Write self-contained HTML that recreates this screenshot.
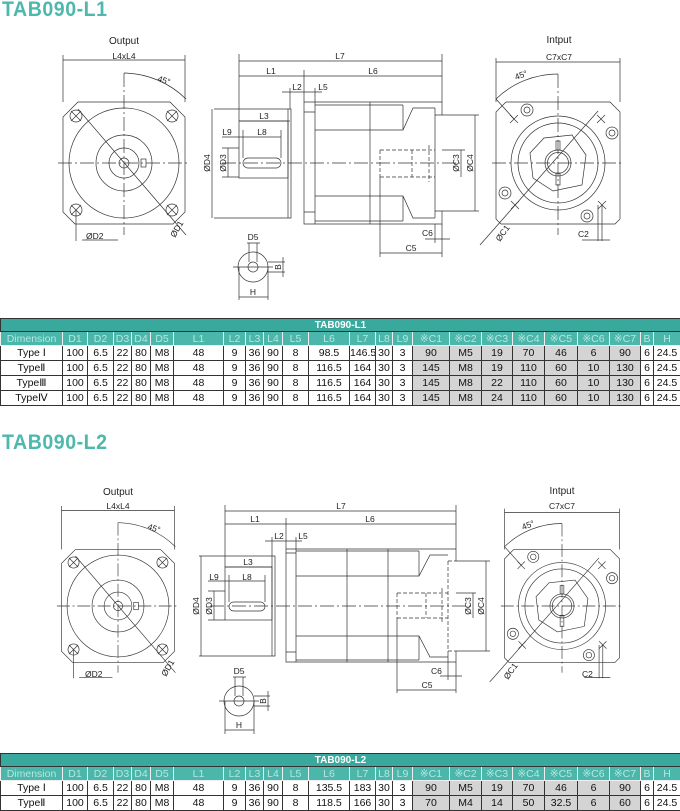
<!DOCTYPE html>
<html><head><meta charset="utf-8">
<style>
body{margin:0;width:680px;height:810px;background:#fff;position:relative;overflow:hidden;font-family:"Liberation Sans",sans-serif}
.ttl{position:absolute;left:2px;font:bold 21px "Liberation Sans",sans-serif;color:#4db8ad;letter-spacing:0.6px;transform:scaleX(0.93);transform-origin:left}
svg{position:absolute;left:0;top:0}
table{position:absolute;left:0;width:680px;border-collapse:collapse;table-layout:fixed;font-size:10.5px;color:#111}
td{border:1px solid #333;text-align:center;padding:0;white-space:nowrap;overflow:hidden}
tr.t td{background:#3aa99d;color:#fff;font-weight:bold;height:12px;font-size:10px}
tr.h td{background:#4bb7ab;color:#b7e6e0;height:13px;border-color:#eee}
tr.d td{height:14px}
td.g{background:#d4d4d4}
</style></head><body>
<div class="ttl" style="top:-2px">TAB090-L1</div>
<div class="ttl" style="top:431px">TAB090-L2</div>

<svg width="680" height="810" viewBox="0 0 680 810" font-family="Liberation Sans, sans-serif" font-size="8" fill="none" stroke="#333" stroke-width="0.7">
<defs>
<g id="outv">
 <path d="M-46,-61 L46,-61 L61,-46 L61,49 L49,61 L-49,61 L-61,49 L-61,-46 Z"/>
 <circle r="55"/><circle r="28"/><circle r="15"/><circle r="5"/>
 <rect x="17" y="-4" width="5" height="8"/>
 <circle cx="-48" cy="-47" r="6"/><path d="M-53,-52 L-43,-42 M-53,-42 L-43,-52"/>
 <circle cx="48" cy="-47" r="6"/><path d="M43,-52 L53,-42 M43,-42 L53,-52"/>
 <circle cx="-48" cy="47" r="6"/><path d="M-53,42 L-43,52 M-53,52 L-43,42"/>
 <circle cx="48" cy="47" r="6"/><path d="M43,42 L53,52 M43,52 L53,42"/>
 <path d="M0,-90 V72 M-66,0 H66" stroke-dasharray="14 3 2 3"/>
 <path d="M-46,-54 L62,72 M0,-90 A90,90 0 0 1 62,-64 M-61,-108 V-61 M61,-108 V-61 M-61,-103 H61 M-48,47 V78 M-42,77 H-6"/>
</g>
<g id="inv">
 <path d="M-52,-61 L52,-61 L62,-51 L62,56 L57,61 L-57,61 L-62,56 L-62,-51 Z"/>
 <circle r="47"/><circle r="40"/><path d="M-28,-10 L-14,-25 L14,-28 L28,-8 L24,22 L-5,28 L-25,15 Z"/><circle r="13"/><circle r="10.5"/>
 <rect x="-2" y="-22" width="4" height="9"/><rect x="-2" y="10" width="4" height="12"/>
 <circle cx="-31" cy="-53" r="6"/><circle cx="-31" cy="-53" r="3"/>
 <circle cx="54" cy="-30" r="6"/><circle cx="54" cy="-30" r="3"/>
 <circle cx="-53" cy="30" r="6"/><circle cx="-53" cy="30" r="3"/>
 <circle cx="29" cy="53" r="6"/><circle cx="29" cy="53" r="3"/>
 <path d="M-48,-48 L-40,-40 M-48,-40 L-40,-48 M39,-48 L47,-40 M39,-40 L47,-48 M-47,38 L-39,46 M-47,46 L-39,38 M40,38 L48,46 M40,46 L48,38"/>
 <path d="M0,-89 V72 M-66,0 H66" stroke-dasharray="14 3 2 3"/>
 <path d="M-78,82 L40,-52 M0,-89 A89,89 0 0 0 -62,-64 L-44,-44 M-62,-105 V-61 M62,-105 V-61 M-62,-101 H62 M40,42 V78 M44,42 V78 M24,77 H52"/>
</g>
</defs>

<use href="#outv" transform="translate(124,163)"/>
<use href="#inv" transform="translate(558,163)"/>
<g>
 <path d="M239,54 V121 M442,54 V102 M239,61 H442 M239,76 H442 M304,70 V102 M290,88 V109 M282,92 H304 M315,88 V102 M304,92 H322"/>
 <rect x="239" y="121" width="49" height="57"/>
 <path d="M288,109 H291 V218 H288 Z M214,109 H288 M214,218 H288"/>
 <rect x="243" y="158" width="38" height="10" rx="5"/>
 <path d="M304,102 H442 V115 M442,211 V224 H304 V102 M304,112 H315 M304,212 H315 M315,102 V224 M315,105 H403 M315,130 H403 L413,108 H435 M403,105 V130 M315,196 H403 L413,218 H435 M315,221 H403 M403,196 V221 M370,102 V224 M435,108 V218 M435,115 H442 M435,211 H442"/>
 <path d="M380,150 H435 M380,177 H435 M380,150 V177 M412,150 V177 M429,145 V182" stroke-dasharray="4 2"/>
 <path d="M222,163 H460" stroke-dasharray="14 3 2 3"/>
 <path d="M212,109 V218 M228,148 V177 M222,148 H239 M222,177 H239 M239,121 H290 M222,137 H281 M243,130 V158 M281,130 V158 M461,150 V177 M442,150 H465 M475,115 V211 M442,115 H479 M442,211 H479 M380,177 V257 M442,224 V257 M435,224 V243 M425,239 H450 M380,253 H442"/>
 <circle cx="253" cy="267" r="15"/><circle cx="253" cy="267" r="5"/>
 <path d="M249,243 V262 M257,243 V262 M247,243 H260 M239,267 V300 M268,267 V300 M239,297 H268 M268,262 H285 M268,272 H285 M283,257 V277 M233,267 H273"/>
</g>

<use href="#outv" transform="translate(118,606) scale(0.926)"/>
<use href="#inv" transform="translate(562,606) scale(0.927)"/>
<g>
 <path d="M225,505 V567 M456,505 V549 M225,511 H456 M225,524 H456 M286,518 V549 M272,537 V556 M265,541 H286 M296,537 V549 M286,541 H302"/>
 <rect x="225" y="567" width="47" height="53"/>
 <path d="M272,556 H275 V656 H272 Z M199,556 H272 M199,656 H272"/>
 <rect x="229" y="602" width="36" height="9" rx="4.5"/>
 <path d="M286,549 H456 V561 M456,651 V662 H286 V549 M286,553 H296 M286,652 H296 M296,549 V662 M296,551 H419 M296,576 H419 L430,555 H448 M419,551 V576 M296,636 H419 L430,657 H448 M296,660 H419 M419,636 V660 M347,549 V662 M388,549 V662"/>
 <path d="M448,561 V651 M448,561 H456 M448,651 H456 M397,593 H448 M397,618 H448 M397,593 V618 M426,593 V618 M442,588 V623" stroke-dasharray="4 2"/>
 <path d="M210,606 H472" stroke-dasharray="14 3 2 3"/>
 <path d="M201,556 V656 M214,591 V620 M208,591 H225 M208,620 H225 M225,567 H272 M208,581 H265 M229,575 V602 M265,575 V602 M473,593 V618 M456,593 H476 M486,561 V651 M456,561 H490 M456,651 H490 M397,618 V693 M456,662 V693 M448,651 V680 M440,676 H462 M397,690 H456"/>
 <circle cx="239" cy="701" r="15"/><circle cx="239" cy="701" r="5"/>
 <path d="M235,677 V696 M243,677 V696 M233,677 H246 M225,701 V734 M254,701 V734 M225,730 H254 M254,696 H270 M254,706 H270 M268,691 V711 M219,701 H259"/>
</g>

<g fill="#222" stroke="none" font-size="8.5">
 <text x="124" y="44" text-anchor="middle" font-size="10">Output</text>
 <text x="124" y="59" text-anchor="middle">L4xL4</text>
 <text x="157" y="81" transform="rotate(18 157 81)">45°</text>
 <text x="86" y="239">ØD2</text>
 <text x="175" y="238" transform="rotate(-60 175 238)">ØD1</text>
 <text x="559" y="43" text-anchor="middle" font-size="10">Intput</text>
 <text x="559" y="60" text-anchor="middle">C7xC7</text>
 <text x="516" y="80" transform="rotate(-20 516 80)">45°</text>
 <text x="500" y="242" transform="rotate(-55 500 242)">ØC1</text>
 <text x="578" y="237">C2</text>
 <text x="340" y="59" text-anchor="middle">L7</text>
 <text x="271" y="74" text-anchor="middle">L1</text>
 <text x="373" y="74" text-anchor="middle">L6</text>
 <text x="297" y="90" text-anchor="middle">L2</text>
 <text x="323" y="90" text-anchor="middle">L5</text>
 <text x="264" y="119" text-anchor="middle">L3</text>
 <text x="227" y="135" text-anchor="middle">L9</text>
 <text x="262" y="135" text-anchor="middle">L8</text>
 <text x="210" y="163" transform="rotate(-90 210 163)" text-anchor="middle">ØD4</text>
 <text x="226" y="163" transform="rotate(-90 226 163)" text-anchor="middle">ØD3</text>
 <text x="459" y="163" transform="rotate(-90 459 163)" text-anchor="middle">ØC3</text>
 <text x="473" y="163" transform="rotate(-90 473 163)" text-anchor="middle">ØC4</text>
 <text x="422" y="236">C6</text>
 <text x="411" y="251" text-anchor="middle">C5</text>
 <text x="253" y="240" text-anchor="middle">D5</text>
 <text x="281" y="267" transform="rotate(-90 281 267)" text-anchor="middle">B</text>
 <text x="253" y="295" text-anchor="middle">H</text>

 <text x="118" y="495" text-anchor="middle" font-size="10">Output</text>
 <text x="118" y="509" text-anchor="middle">L4xL4</text>
 <text x="147" y="529" transform="rotate(18 147 529)">45°</text>
 <text x="85" y="677">ØD2</text>
 <text x="166" y="677" transform="rotate(-60 166 677)">ØD1</text>
 <text x="562" y="494" text-anchor="middle" font-size="10">Intput</text>
 <text x="562" y="509" text-anchor="middle">C7xC7</text>
 <text x="523" y="530" transform="rotate(-20 523 530)">45°</text>
 <text x="508" y="680" transform="rotate(-55 508 680)">ØC1</text>
 <text x="582" y="677">C2</text>
 <text x="341" y="509" text-anchor="middle">L7</text>
 <text x="255" y="522" text-anchor="middle">L1</text>
 <text x="370" y="522" text-anchor="middle">L6</text>
 <text x="279" y="539" text-anchor="middle">L2</text>
 <text x="303" y="539" text-anchor="middle">L5</text>
 <text x="248" y="565" text-anchor="middle">L3</text>
 <text x="214" y="580" text-anchor="middle">L9</text>
 <text x="247" y="580" text-anchor="middle">L8</text>
 <text x="199" y="606" transform="rotate(-90 199 606)" text-anchor="middle">ØD4</text>
 <text x="212" y="606" transform="rotate(-90 212 606)" text-anchor="middle">ØD3</text>
 <text x="471" y="606" transform="rotate(-90 471 606)" text-anchor="middle">ØC3</text>
 <text x="484" y="606" transform="rotate(-90 484 606)" text-anchor="middle">ØC4</text>
 <text x="431" y="674">C6</text>
 <text x="427" y="688" text-anchor="middle">C5</text>
 <text x="239" y="674" text-anchor="middle">D5</text>
 <text x="266" y="701" transform="rotate(-90 266 701)" text-anchor="middle">B</text>
 <text x="239" y="728" text-anchor="middle">H</text>
</g>
</svg>

<table style="top:318px">
<colgroup><col style="width:62px"><col style="width:25px"><col style="width:26px"><col style="width:18px"><col style="width:19px"><col style="width:23px"><col style="width:50px"><col style="width:22px"><col style="width:18px"><col style="width:19px"><col style="width:26px"><col style="width:41px"><col style="width:26px"><col style="width:17px"><col style="width:20px"><col style="width:37px"><col style="width:32px"><col style="width:31px"><col style="width:32px"><col style="width:33px"><col style="width:32px"><col style="width:31px"><col style="width:13px"><col style="width:27px"></colgroup>
<tr class="t"><td colspan="24">TAB090-L1</td></tr>
<tr class="h"><td>Dimension</td><td>D1</td><td>D2</td><td>D3</td><td>D4</td><td>D5</td><td>L1</td><td>L2</td><td>L3</td><td>L4</td><td>L5</td><td>L6</td><td>L7</td><td>L8</td><td>L9</td><td>※C1</td><td>※C2</td><td>※C3</td><td>※C4</td><td>※C5</td><td>※C6</td><td>※C7</td><td>B</td><td>H</td></tr>
<tr class="d"><td>Type Ⅰ</td><td>100</td><td>6.5</td><td>22</td><td>80</td><td>M8</td><td>48</td><td>9</td><td>36</td><td>90</td><td>8</td><td>98.5</td><td>146.5</td><td>30</td><td>3</td><td class="g">90</td><td class="g">M5</td><td class="g">19</td><td class="g">70</td><td class="g">46</td><td class="g">6</td><td class="g">90</td><td>6</td><td>24.5</td></tr>
<tr class="d"><td>TypeⅡ</td><td>100</td><td>6.5</td><td>22</td><td>80</td><td>M8</td><td>48</td><td>9</td><td>36</td><td>90</td><td>8</td><td>116.5</td><td>164</td><td>30</td><td>3</td><td class="g">145</td><td class="g">M8</td><td class="g">19</td><td class="g">110</td><td class="g">60</td><td class="g">10</td><td class="g">130</td><td>6</td><td>24.5</td></tr>
<tr class="d"><td>TypeⅢ</td><td>100</td><td>6.5</td><td>22</td><td>80</td><td>M8</td><td>48</td><td>9</td><td>36</td><td>90</td><td>8</td><td>116.5</td><td>164</td><td>30</td><td>3</td><td class="g">145</td><td class="g">M8</td><td class="g">22</td><td class="g">110</td><td class="g">60</td><td class="g">10</td><td class="g">130</td><td>6</td><td>24.5</td></tr>
<tr class="d"><td>TypeⅣ</td><td>100</td><td>6.5</td><td>22</td><td>80</td><td>M8</td><td>48</td><td>9</td><td>36</td><td>90</td><td>8</td><td>116.5</td><td>164</td><td>30</td><td>3</td><td class="g">145</td><td class="g">M8</td><td class="g">24</td><td class="g">110</td><td class="g">60</td><td class="g">10</td><td class="g">130</td><td>6</td><td>24.5</td></tr>
</table>

<table style="top:753px">
<colgroup><col style="width:62px"><col style="width:25px"><col style="width:26px"><col style="width:18px"><col style="width:19px"><col style="width:23px"><col style="width:50px"><col style="width:22px"><col style="width:18px"><col style="width:19px"><col style="width:26px"><col style="width:41px"><col style="width:26px"><col style="width:17px"><col style="width:20px"><col style="width:37px"><col style="width:32px"><col style="width:31px"><col style="width:32px"><col style="width:33px"><col style="width:32px"><col style="width:31px"><col style="width:13px"><col style="width:27px"></colgroup>
<tr class="t"><td colspan="24">TAB090-L2</td></tr>
<tr class="h"><td>Dimension</td><td>D1</td><td>D2</td><td>D3</td><td>D4</td><td>D5</td><td>L1</td><td>L2</td><td>L3</td><td>L4</td><td>L5</td><td>L6</td><td>L7</td><td>L8</td><td>L9</td><td>※C1</td><td>※C2</td><td>※C3</td><td>※C4</td><td>※C5</td><td>※C6</td><td>※C7</td><td>B</td><td>H</td></tr>
<tr class="d"><td>Type Ⅰ</td><td>100</td><td>6.5</td><td>22</td><td>80</td><td>M8</td><td>48</td><td>9</td><td>36</td><td>90</td><td>8</td><td>135.5</td><td>183</td><td>30</td><td>3</td><td class="g">90</td><td class="g">M5</td><td class="g">19</td><td class="g">70</td><td class="g">46</td><td class="g">6</td><td class="g">90</td><td>6</td><td>24.5</td></tr>
<tr class="d"><td>TypeⅡ</td><td>100</td><td>6.5</td><td>22</td><td>80</td><td>M8</td><td>48</td><td>9</td><td>36</td><td>90</td><td>8</td><td>118.5</td><td>166</td><td>30</td><td>3</td><td class="g">70</td><td class="g">M4</td><td class="g">14</td><td class="g">50</td><td class="g">32.5</td><td class="g">6</td><td class="g">60</td><td>6</td><td>24.5</td></tr>
</table>
</body></html>
